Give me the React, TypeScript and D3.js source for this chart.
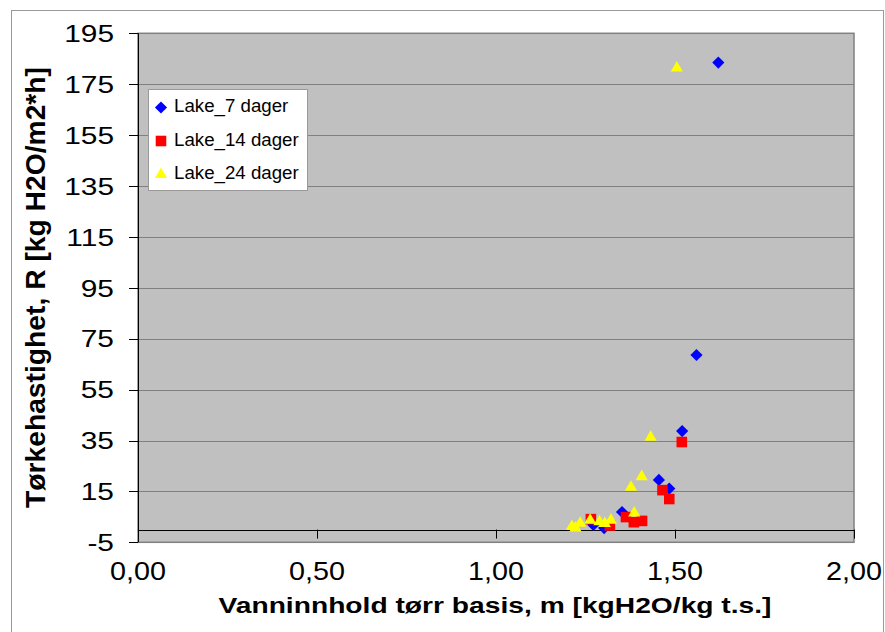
import React from "react";
import * as d3 from "d3";

const xTicks = [0, 0.5, 1.0, 1.5, 2.0];
const yTicks = [-5, 15, 35, 55, 75, 95, 115, 135, 155, 175, 195];

const seriesNames = ["Lake_7 dager", "Lake_14 dager", "Lake_24 dager"];
const seriesColors = ["#0000FF", "#FF0000", "#FFFF00"];

const lake7X = [1.621, 1.56, 1.52, 1.484, 1.455, 1.352, 1.302, 1.272];
const lake7Y = [183.5, 68.6, 38.7, 16.1, 19.5, 6.9, 0.6, 1.8];

const lake14X = [1.519, 1.465, 1.484, 1.363, 1.408, 1.385, 1.265, 1.318];
const lake14Y = [34.4, 15.5, 12.0, 4.9, 3.4, 2.9, 4.1, 1.6];

const lake24X = [1.505, 1.432, 1.407, 1.377, 1.386, 1.212, 1.222, 1.235, 1.263, 1.289, 1.304, 1.321];
const lake24Y = [181.4, 36.3, 20.8, 16.6, 6.5, 1.2, 0.6, 2.5, 3.7, 3.1, 2.4, 3.7];

const W = 885;
const H = 632;
const plot = { left: 138, right: 854, top: 33.3, bottom: 542.3 };
const FONT = "'Liberation Sans', Arial, Helvetica, sans-serif";

const fmtX = (v: number) => d3.format(".2f")(v).replace(".", ",");

function markerPath(kind: number): string {
  if (kind === 0) return d3.symbol().type(d3.symbolSquare).size(74)() as string;
  if (kind === 1) return d3.symbol().type(d3.symbolSquare).size(112)() as string;
  return d3.symbol().type(d3.symbolTriangle).size(64)() as string;
}

export default function App() {
  const x = d3.scaleLinear().domain([0, 2]).range([plot.left, plot.right]);
  const y = d3.scaleLinear().domain([-5, 195]).range([plot.bottom, plot.top]);

  const series = [
    { xs: lake7X, ys: lake7Y },
    { xs: lake14X, ys: lake14Y },
    { xs: lake24X, ys: lake24Y },
  ];

  const rot = (k: number) => (k === 0 ? " rotate(45)" : "");

  return (
    <svg
      width={W}
      height={H}
      style={{ position: "absolute", left: 0, top: 0, background: "#fff" }}
    >
      <rect x={11.5} y={10.5} width={872} height={640} fill="#fff" stroke="#999" strokeWidth={1} />
      {/* plot area */}
      <rect
        x={plot.left}
        y={plot.top}
        width={plot.right - plot.left}
        height={plot.bottom - plot.top}
        fill="#C0C0C0"
        stroke="#808080"
        strokeWidth={1.5}
      />
      {yTicks.map((t) => (
        <line
          key={"g" + t}
          x1={plot.left}
          x2={plot.right}
          y1={Math.round(y(t)) + 0.5}
          y2={Math.round(y(t)) + 0.5}
          stroke="#808080"
          strokeWidth={1}
        />
      ))}
      {/* y axis */}
      <line x1={plot.left + 0.5} x2={plot.left + 0.5} y1={plot.top} y2={plot.bottom} stroke="#000" />
      {yTicks.map((t) => (
        <g key={"yt" + t}>
          <line
            x1={plot.left - 9}
            x2={plot.left}
            y1={Math.round(y(t)) + 0.5}
            y2={Math.round(y(t)) + 0.5}
            stroke="#000"
          />
          <text
            transform={`translate(114,${y(t) + 8.7}) scale(1.22,1)`}
            textAnchor="end"
            fontFamily={FONT}
            fontSize={24.5}
            fill="#000"
          >
            {t}
          </text>
        </g>
      ))}
      {/* x axis at y = 0 */}
      <line x1={plot.left} x2={plot.right} y1={Math.round(y(0)) + 0.5} y2={Math.round(y(0)) + 0.5} stroke="#000" />
      {xTicks.map((t) => (
        <g key={"xt" + t}>
          <line
            x1={Math.round(x(t)) + 0.5}
            x2={Math.round(x(t)) + 0.5}
            y1={y(0)}
            y2={y(0) + 9}
            stroke="#000"
          />
          <text
            transform={`translate(${x(t)},580) scale(1.15,1)`}
            textAnchor="middle"
            fontFamily={FONT}
            fontSize={25}
            fill="#000"
          >
            {fmtX(t)}
          </text>
        </g>
      ))}
      {/* data */}
      {series.map((s, k) => (
        <g key={"s" + k}>
          {s.xs.map((xv, i) => (
            <path
              key={i}
              d={markerPath(k)}
              transform={`translate(${x(xv)},${y(s.ys[i])})${rot(k)}`}
              fill={seriesColors[k]}
              stroke="none"
            />
          ))}
        </g>
      ))}
      {/* legend */}
      <rect x={148.5} y={89.5} width={159} height={101} fill="#fff" stroke="#999" strokeWidth={1} />
      {seriesNames.map((name, k) => {
        const cy = 107.5 + k * 33.5;
        return (
          <g key={"l" + k}>
            <path d={markerPath(k)} transform={`translate(161,${cy})${rot(k)}`} fill={seriesColors[k]} />
            <text x={174} y={cy + 4.5 + (k === 0 ? 0 : 0)} fontFamily={FONT} fontSize={18.7} fill="#000">
              {name}
            </text>
          </g>
        );
      })}
      {/* axis titles */}
      <text
        x={495}
        y={613}
        textAnchor="middle"
        fontFamily={FONT}
        fontWeight="bold"
        fontSize={22}
        textLength={553}
        lengthAdjust="spacingAndGlyphs"
        fill="#000"
      >
        Vanninnhold tørr basis, m [kgH2O/kg t.s.]
      </text>
      <text
        transform="translate(45,287.5) rotate(-90)"
        textAnchor="middle"
        fontFamily={FONT}
        fontWeight="bold"
        fontSize={28}
        textLength={441}
        lengthAdjust="spacingAndGlyphs"
        fill="#000"
      >
        Tørkehastighet, R [kg H2O/m2*h]
      </text>
    </svg>
  );
}
